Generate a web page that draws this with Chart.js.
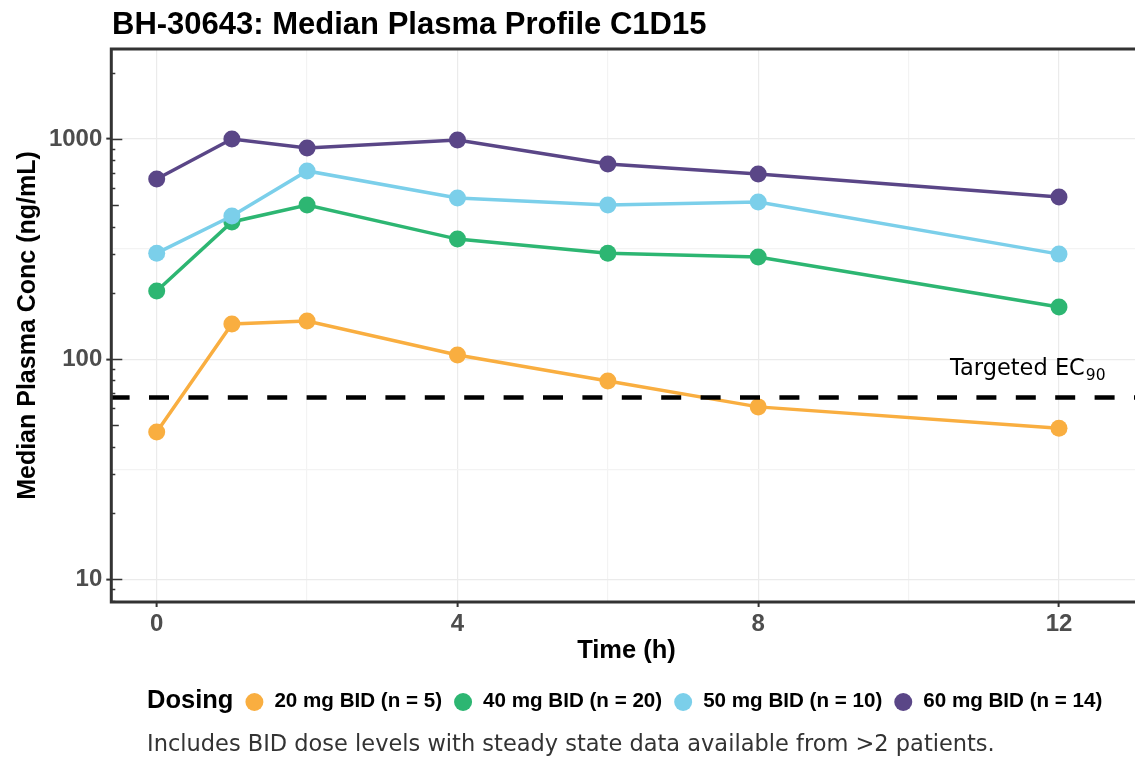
<!DOCTYPE html>
<html>
<head>
<meta charset="utf-8">
<script src="https://cdn.jsdelivr.net/npm/chart.js@4"></script>
<style>
    html, body { margin: 0; padding: 0; background: #fff; }
    #pk-chart { display: block; }
</style>
</head>
<body>
<canvas id="pk-chart" width="1135" height="759"></canvas>
<script>
// Median plasma concentration (ng/mL) per dose level, C1D15
const timesH = [0, 1, 2, 4, 6, 8, 12];
const dose20 = [46.7, 144.6, 148.9, 104.5, 79.6, 60.7, 48.6];
const dose40 = [204, 420, 501, 351, 303, 291, 172.6];
const dose50 = [303, 447, 716, 540, 501, 518, 300];
const dose60 = [658, 1000, 910, 990, 770, 693, 545];
const doseLabels = ['20 mg BID (n = 5)', '40 mg BID (n = 20)', '50 mg BID (n = 10)', '60 mg BID (n = 14)'];
const doseColors = ['#F9AE40', '#2DB672', '#7BCFEA', '#5A4687'];
const ec90 = 67;

const xTickValues = [0, 2, 4, 6, 8, 10, 12];
const xMajorTicks = [0, 4, 8, 12];
const yTickValues = [10, 31.62, 100, 316.2, 1000];
const yMajorTicks = [10, 100, 1000];

const chartTitle = 'BH-30643: Median Plasma Profile C1D15';
const xTitle = 'Time (h)';
const yTitle = 'Median Plasma Conc (ng/mL)';
const legendTitle = 'Dosing';
const captionText = 'Includes BID dose levels with steady state data available from >2 patients.';

const axisGrey = '#333333';
const tickTextGrey = '#4d4d4d';
const boldFont = '"Liberation Sans", Arial, sans-serif';
const noteFont = '"DejaVu Sans", sans-serif';

const allSeries = [dose20, dose40, dose50, dose60];

const datasets = allSeries.map((vals, i) => ({
    label: doseLabels[i],
    data: timesH.map((t, j) => ({ x: t, y: vals[j] })),
    borderColor: doseColors[i],
    backgroundColor: doseColors[i],
    pointBackgroundColor: doseColors[i],
    pointBorderWidth: 0,
    pointRadius: 8.5,
    borderWidth: 3.5,
    tension: 0,
    order: allSeries.length - i, // later doses drawn on top
    clip: false
}));

// extra drawing: titles, EC90 line, log ticks, panel border, legend, caption
const decorPlugin = {
    id: 'decor',
    afterDatasetsDraw(chart) {
        const { ctx, chartArea: area, scales } = chart;
        const yEc = scales.y.getPixelForValue(ec90);

        ctx.save();
        ctx.beginPath();
        ctx.rect(area.left, area.top, area.right - area.left, area.bottom - area.top);
        ctx.clip();
        ctx.strokeStyle = '#000';
        ctx.lineWidth = 4.5;
        ctx.setLineDash([20, 19.4]);
        ctx.beginPath();
        ctx.moveTo(area.left - 1.7, yEc);
        ctx.lineTo(area.right, yEc);
        ctx.stroke();
        ctx.restore();

        // label above the line
        ctx.save();
        ctx.fillStyle = '#000';
        ctx.textBaseline = 'alphabetic';
        ctx.font = '22.5px ' + noteFont;
        const mainTxt = 'Targeted EC';
        ctx.fillText(mainTxt, 950, yEc - 22);
        const w = ctx.measureText(mainTxt).width;
        ctx.font = '15.5px ' + noteFont;
        ctx.fillText('90', 950 + w + 1, yEc - 17);
        ctx.restore();
    },
    afterDraw(chart) {
        const { ctx, chartArea: area, scales } = chart;
        const ys = scales.y;

        // log ticks on the inside of the left edge
        ctx.save();
        ctx.strokeStyle = axisGrey;
        ctx.lineWidth = 1.5;
        for (let k = 0; k <= 3; k++) {
            for (let m = 1; m <= 9; m++) {
                const v = m * Math.pow(10, k);
                if (v < ys.min || v > ys.max) continue;
                const py = Math.round(ys.getPixelForValue(v)) + 0.5;
                const len = m === 1 ? 11 : (m === 5 ? 7.5 : 4);
                ctx.beginPath();
                ctx.moveTo(area.left, py);
                ctx.lineTo(area.left + len, py);
                ctx.stroke();
            }
        }
        ctx.restore();

        // panel border (right side falls off the canvas)
        ctx.save();
        ctx.strokeStyle = axisGrey;
        ctx.lineWidth = 3;
        ctx.strokeRect(area.left, area.top, area.right - area.left + 10, area.bottom - area.top);
        ctx.restore();

        ctx.save();
        ctx.fillStyle = '#000';

        // main title
        ctx.font = 'bold 31px ' + boldFont;
        ctx.textAlign = 'left';
        ctx.textBaseline = 'alphabetic';
        ctx.fillText(chartTitle, 112, 34);

        // axis titles
        ctx.font = 'bold 25.5px ' + boldFont;
        ctx.textAlign = 'center';
        ctx.textBaseline = 'middle';
        ctx.fillText(xTitle, 626.5, 651);

        ctx.save();
        ctx.translate(28, (area.top + area.bottom) / 2);
        ctx.rotate(-Math.PI / 2);
        ctx.font = 'bold 25px ' + boldFont;
        ctx.fillText(yTitle, 0, 0);
        ctx.restore();

        // legend row
        const legY = 701;
        ctx.textAlign = 'left';
        ctx.textBaseline = 'middle';
        ctx.font = 'bold 25.5px ' + boldFont;
        let lx = 147;
        ctx.fillText(legendTitle, lx, legY);
        lx += ctx.measureText(legendTitle).width;
        ctx.font = 'bold 20.6px ' + boldFont;
        doseLabels.forEach((lab, i) => {
            const cx = lx + 21;
            ctx.fillStyle = doseColors[i];
            ctx.beginPath();
            ctx.arc(cx, legY + 1, 9, 0, Math.PI * 2);
            ctx.fill();
            ctx.fillStyle = '#000';
            ctx.fillText(lab, cx + 20, legY);
            lx = cx + 20 + ctx.measureText(lab).width;
        });

        // caption
        ctx.fillStyle = '#333';
        ctx.font = '22.5px ' + noteFont;
        ctx.fillText(captionText, 147, 745);
        ctx.restore();
    }
};

const ctx = document.getElementById('pk-chart').getContext('2d');

new Chart(ctx, {
    type: 'line',
    data: { datasets: datasets },
    options: {
        responsive: false,
        animation: false,
        devicePixelRatio: 1,
        layout: { autoPadding: false, padding: { top: 49, right: 0, bottom: 0, left: 0 } },
        plugins: {
            legend: { display: false },
            title: { display: false },
            tooltip: { enabled: false }
        },
        scales: {
            x: {
                type: 'linear',
                min: -0.604,
                max: 13.011,
                afterBuildTicks: (s) => {
                    s.ticks = xTickValues.map(v => ({ value: v }));
                },
                afterFit: (s) => { s.height = 157; },
                border: { display: false },
                grid: {
                    color: (c) => xMajorTicks.includes(c.tick && c.tick.value) ? '#ebebeb' : '#f3f3f3',
                    lineWidth: 1.2,
                    drawTicks: true,
                    tickLength: 5,
                    tickWidth: 2,
                    tickColor: (c) => xMajorTicks.includes(c.tick && c.tick.value) ? axisGrey : 'rgba(0,0,0,0)'
                },
                ticks: {
                    autoSkip: false,
                    maxRotation: 0,
                    padding: 3,
                    color: tickTextGrey,
                    font: { family: boldFont, size: 24, weight: 'bold' },
                    callback: (v) => xMajorTicks.includes(v) ? String(v) : ''
                }
            },
            y: {
                type: 'logarithmic',
                min: 7.886,
                max: 2564,
                afterBuildTicks: (s) => {
                    s.ticks = yTickValues.map(v => ({ value: v }));
                },
                afterFit: (s) => { s.width = 111.3; },
                border: { display: false },
                grid: {
                    color: (c) => yMajorTicks.includes(c.tick && c.tick.value) ? '#ebebeb' : '#f3f3f3',
                    lineWidth: 1.2,
                    drawTicks: true,
                    tickLength: 5,
                    tickWidth: 2,
                    tickColor: (c) => yMajorTicks.includes(c.tick && c.tick.value) ? axisGrey : 'rgba(0,0,0,0)'
                },
                ticks: {
                    autoSkip: false,
                    padding: 4,
                    color: tickTextGrey,
                    font: { family: boldFont, size: 24, weight: 'bold' },
                    callback: (v) => yMajorTicks.includes(v) ? String(v) : ''
                }
            }
        }
    },
    plugins: [decorPlugin]
});
</script>
</body>
</html>
